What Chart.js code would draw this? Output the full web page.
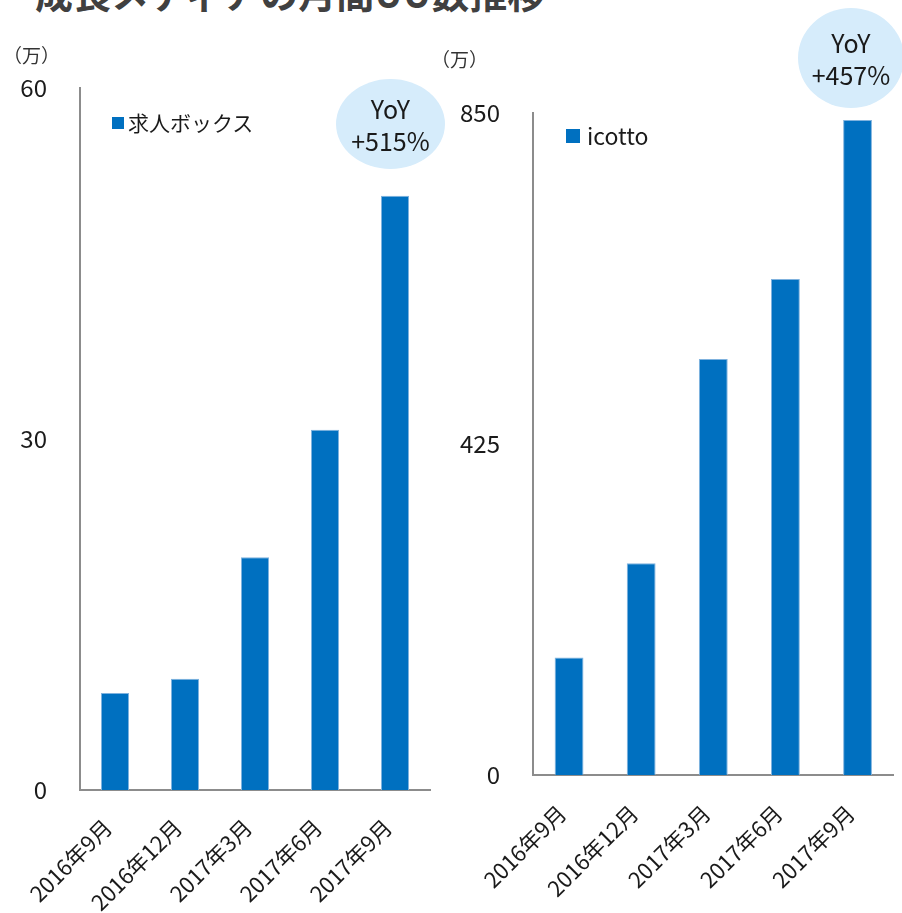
<!DOCTYPE html>
<html>
<head>
<meta charset="utf-8">
<script src="https://cdn.jsdelivr.net/npm/chart.js@4"></script>
<style>
  html, body { margin:0; padding:0; background:#fff; }
  body { width:902px; height:913px; position:relative; overflow:hidden;
         font-family:'Noto Sans CJK JP', 'Noto Sans', sans-serif; color:#1a1a1a; }
  canvas { position:absolute; }
  .abs { position:absolute; white-space:nowrap; }
  .title { left:35px; top:-27px; font-size:38px; font-weight:bold; color:#404040; line-height:1; }
  .unit { font-size:19px; color:#333; line-height:1; }
  .legend { font-size:21px; line-height:1; display:flex; align-items:center; }
  .legend i { display:inline-block; width:12px; height:12px; background:#0070C0; margin-right:4px; }
  .bubble { background:#d6ecfb; border-radius:50%; display:flex; flex-direction:column;
            align-items:center; justify-content:center; font-size:25px; line-height:1.28; color:#1a1a1a; }
</style>
</head>
<body>
<div class="abs title">成長メディアの月間UU数推移</div>

<canvas id="left" width="445" height="913" style="left:0;top:0;width:445px;height:913px"></canvas>
<canvas id="right" width="452" height="913" style="left:450px;top:0;width:452px;height:913px"></canvas>

<div class="abs unit" style="left:3px;top:45px">（万）</div>
<div class="abs unit" style="left:431px;top:49px">（万）</div>

<div class="abs legend" style="left:112px;top:112px"><i></i><span id="lgL"></span></div>
<div class="abs legend" style="left:566px;top:124px;font-size:23px"><i style="width:14px;height:14px;margin-right:7px"></i><span id="lgR"></span></div>

<div class="abs bubble" style="left:336px;top:79px;width:109px;height:90px"><span>YoY</span><span id="yoyL"></span></div>
<div class="abs bubble" style="left:798px;top:8px;width:106px;height:100px"><span>YoY</span><span id="yoyR"></span></div>

<script>
const categories = ['2016年9月', '2016年12月', '2017年3月', '2017年6月', '2017年9月'];
const kyujinLabel = '求人ボックス';
const kyujinValues = [8.3, 9.5, 19.9, 30.8, 50.8];
const kyujinTicks = [0, 30, 60];
const kyujinYoY = '+515%';
const icottoLabel = 'icotto';
const icottoValues = [151, 272, 534, 637, 841];
const icottoTicks = [0, 425, 850];
const icottoYoY = '+457%';

document.getElementById('lgL').textContent = kyujinLabel;
document.getElementById('lgR').textContent = icottoLabel;
document.getElementById('yoyL').textContent = kyujinYoY;
document.getElementById('yoyR').textContent = icottoYoY;

const FONT = "'Noto Sans CJK JP', 'Noto Sans', sans-serif";

function makeChart(id, label, values, ticks, cfg) {
  return new Chart(document.getElementById(id), {
    type: 'bar',
    data: {
      labels: categories,
      datasets: [{
        label: label,
        data: values,
        backgroundColor: '#0070C0',
        borderColor: '#7fb2de',
        borderWidth: {left:1, right:1, top:1, bottom:0},
        barPercentage: 0.4,
        categoryPercentage: 1.0
      }]
    },
    options: {
      responsive: false,
      animation: false,
      layout: { padding: { top: cfg.top, right: cfg.right, left: 0, bottom: 0 } },
      plugins: { legend: { display: false }, tooltip: { enabled: false } },
      scales: {
        x: {
          grid: { display: false, drawTicks: false },
          border: { display: true, color: '#8c8c8c', width: 2 },
          ticks: { color: '#1a1a1a', font: { family: FONT, size: 22 }, minRotation: 45, maxRotation: 45,
                   padding: cfg.xpad, labelOffset: -7, autoSkip: false },
          afterFit: s => { s.height = cfg.xh; }
        },
        y: {
          min: ticks[0], max: ticks[ticks.length - 1],
          grid: { display: false, drawTicks: false },
          border: { display: true, color: '#8c8c8c', width: 2 },
          ticks: { color: '#1a1a1a', font: { family: FONT, size: 24 }, padding: 33 },
          afterBuildTicks: s => { s.ticks = ticks.map(v => ({ value: v })); },
          afterFit: s => { s.width = cfg.yw; }
        }
      }
    }
  });
}

makeChart('left', kyujinLabel, kyujinValues, kyujinTicks, { top: 88, right: 15, xh: 123, yw: 80, xpad: 24 });
makeChart('right', icottoLabel, icottoValues, icottoTicks, { top: 113, right: 8, xh: 138, yw: 83, xpad: 25 });
</script>
</body>
</html>
